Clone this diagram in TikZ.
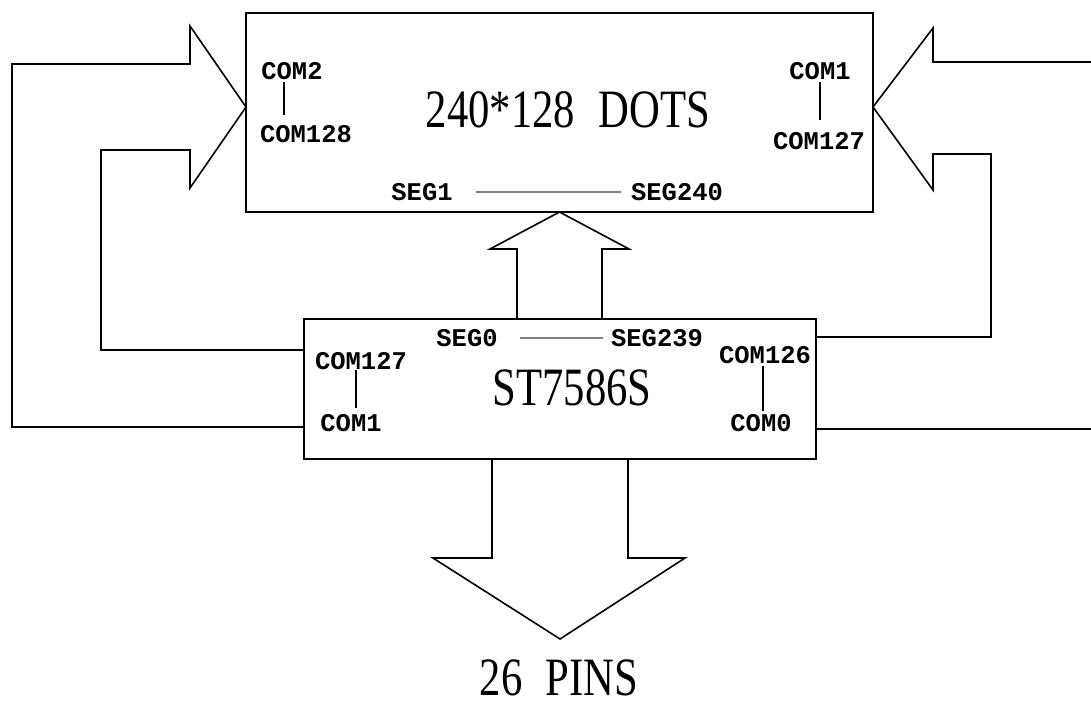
\documentclass[tikz,border=0pt]{standalone}
\usepackage{fontspec}
\setmainfont{Liberation Serif}
\newfontfamily\bigserif[FakeStretch=0.79,WordSpace=2.2]{Liberation Serif}
\newfontfamily\pinfont{Liberation Mono}
\usepackage{tikz}

\begin{document}
\begin{tikzpicture}[x=1pt,y=-1pt,
   chipbox/.style={draw,rectangle,line width=1.6pt,inner sep=0pt,outer sep=0pt},
   wire/.style={line width=1.6pt,line join=miter},
   pinlabel/.style={font=\pinfont\bfseries\fontsize{25.5}{26}\selectfont,inner sep=2pt},
   title/.style={font=\bigserif\fontsize{54}{55}\selectfont,inner sep=0pt},
   tick/.style={line width=1.3pt},
   segline/.style={line width=1.5pt,gray}]
\useasboundingbox (0,0) rectangle (1091,702);

\node[chipbox,minimum width=627pt,minimum height=199pt] (lcd) at (559.5,112.5) {};
\node[chipbox,minimum width=512pt,minimum height=140pt] (drv) at (560,389) {};

\node[title] (dots) at (568,110) {240*128 DOTS};
\node[title] (chip) at (572,388) {ST7586S};
\node[title] (pins) at (559,678) {26 PINS};

\node[pinlabel] (com2) at (292,71) {COM2};
\node[pinlabel] (com128) at (306,134) {COM128};
\node[pinlabel] (com1t) at (820,71) {COM1};
\node[pinlabel] (com127t) at (819,141) {COM127};
\node[pinlabel] (seg1) at (422,192) {SEG1};
\node[pinlabel] (seg240) at (677,192) {SEG240};

\node[pinlabel] (seg0) at (467,338) {SEG0};
\node[pinlabel] (seg239) at (657,338) {SEG239};
\node[pinlabel] (com127b) at (361,361) {COM127};
\node[pinlabel] (com1b) at (351,423) {COM1};
\node[pinlabel] (com126) at (765,355) {COM126};
\node[pinlabel] (com0) at (761,423) {COM0};

\draw[tick] (com2.south -| 284,0) -- (com128.north -| 284,0) [shorten >=8pt];
\draw[tick,shorten >=10pt] (com1t.south -| 820,0) -- (com127t.north -| 820,0);
\draw[tick,shorten <=-2pt,shorten >=4pt] (com127b.south -| 356,0) -- (com1b.north -| 356,0);
\draw[tick,shorten >=1pt] (com126.south -| 763,0) -- (com0.north -| 763,0);
\draw[segline,shorten <=21pt,shorten >=8pt] (seg1.east) -- (seg240.west);
\draw[segline,shorten <=20pt,shorten >=6pt] (seg0.east) -- (seg239.west);

\draw[wire] (drv.west |- 0,427) -- (12,427) -- (12,64) -- (190,64) -- (190,26)
   -- (lcd.west |- 0,107) -- (190,188) -- (190,150) -- (101,150) -- (101,350)
   -- (drv.west |- 0,350);
\draw[wire] (drv.east |- 0,429) -- (1091,429);
\draw[wire] (drv.east |- 0,337) -- (991,337) -- (991,154) -- (933,154) -- (933,190)
   -- (lcd.east |- 0,107) -- (933,28) -- (933,62) -- (1091,62);
\draw[wire] (drv.north -| 517,0) -- (517,249) -- (490,249) -- (lcd.south)
   -- (629,249) -- (602,249) -- (drv.north -| 602,0);
\coordinate (pinstip) at (560,639);
\draw[wire] (drv.south -| 492,0) -- (492,558) -- (433,558) -- (pinstip)
   -- (685,558) -- (628,558) -- (drv.south -| 628,0);
\end{tikzpicture}
\end{document}
